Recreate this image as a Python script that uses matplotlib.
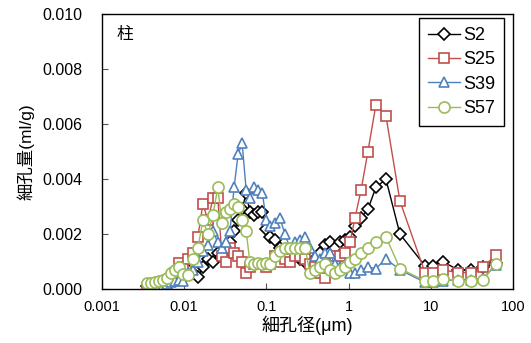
import matplotlib
matplotlib.use("Agg")
import matplotlib.pyplot as plt
from matplotlib.ticker import FixedLocator, FixedFormatter, FormatStrFormatter

plt.rcParams['font.family'] = ['Liberation Sans', 'Noto Sans CJK JP']

# pore diameter (um), shared by all samples
diam = [0.0035, 0.0039, 0.0044, 0.0049, 0.0055, 0.0062, 0.0069, 0.0077, 0.0086, 0.0097,
        0.011, 0.0128, 0.0147, 0.0169, 0.0195, 0.0224, 0.0257, 0.0288, 0.0323, 0.0361,
        0.0405, 0.0453, 0.0508, 0.0568, 0.063, 0.0712, 0.0797, 0.0893, 0.0999, 0.111,
        0.127, 0.146, 0.168, 0.194, 0.223, 0.256, 0.295, 0.339, 0.390, 0.449,
        0.516, 0.594, 0.684, 0.786, 0.904, 1.04, 1.20, 1.42, 1.72, 2.15,
        2.85, 4.22, 8.5, 10.6, 14.1, 21.4, 30.8, 43.2, 62.1]

s2 = [0.00012, 0.00012, 0.00015, 0.00018, 0.0002, 0.00025, 0.0003, 0.0004, 0.0005, 0.0006,
      0.0007, 0.0006, 0.00045, 0.0008, 0.0011, 0.0010, 0.0013, 0.0012, 0.0015, 0.0017,
      0.0021, 0.0025, 0.0029, 0.0035, 0.0028, 0.0027, 0.0028, 0.0028, 0.0022, 0.0019,
      0.0018, 0.0015, 0.0013, 0.0012, 0.0012, 0.0011, 0.0010, 0.0012, 0.0011, 0.0013,
      0.0016, 0.0017, 0.0015, 0.0017, 0.0018, 0.0019, 0.0023, 0.0026, 0.0029, 0.0037,
      0.0040, 0.0020, 0.00085, 0.00085, 0.0010, 0.0007, 0.0007, 0.0008, 0.00095]

s25 = [0.00005, 0.00008, 0.0001, 0.00012, 0.00015, 0.0002, 0.0003, 0.0006, 0.00095, 0.0008,
       0.0011, 0.0013, 0.0019, 0.0031, 0.0025, 0.0033, 0.0033, 0.0012, 0.0010, 0.0015,
       0.0013, 0.0012, 0.0010, 0.0006, 0.0008, 0.0009, 0.0009, 0.0009, 0.0008, 0.0009,
       0.0012, 0.0010, 0.0011, 0.0010, 0.0012, 0.0012, 0.0011, 0.0009, 0.0008, 0.0006,
       0.0004, 0.0009, 0.0012, 0.0012, 0.0013, 0.0017, 0.0026, 0.0036, 0.0050, 0.0067,
       0.0063, 0.0032, 0.0006, 0.0006, 0.0007, 0.0006, 0.0006, 0.0008, 0.00125]

s39 = [0.00003, 0.00005, 0.00008, 0.0001, 0.00012, 0.00018, 0.00025, 0.0003, 0.00035, 0.0003,
       0.0006, 0.0007, 0.0010, 0.0014, 0.0016, 0.0021, 0.0017, 0.0015, 0.0017, 0.0021,
       0.0037, 0.0049, 0.0053, 0.0036, 0.0033, 0.0037, 0.0036, 0.0035, 0.0025, 0.0023,
       0.0024, 0.0026, 0.0020, 0.0015, 0.0017, 0.0018, 0.0019, 0.0015, 0.0012, 0.0011,
       0.0013, 0.0013, 0.0009, 0.0008, 0.00087, 0.0006, 0.0006, 0.0007, 0.0008, 0.00075,
       0.0011, 0.0007, 0.00025, 0.00025, 0.0003, 0.00035, 0.00035, 0.0004, 0.00087]

s57 = [0.00022, 0.00022, 0.00025, 0.0003, 0.00035, 0.0004, 0.0006, 0.0007, 0.0008, 0.00055,
       0.0005, 0.0011, 0.0015, 0.0025, 0.0020, 0.0027, 0.0037, 0.0024, 0.0028, 0.0029,
       0.0031, 0.0030, 0.0025, 0.0021, 0.0010, 0.0009, 0.00095, 0.0009, 0.00095, 0.0009,
       0.0012, 0.0014, 0.0015, 0.0015, 0.0015, 0.0015, 0.0015, 0.0006, 0.0007, 0.0008,
       0.0009, 0.0007, 0.0006, 0.0007, 0.0008, 0.0010, 0.0011, 0.0013, 0.0015, 0.0017,
       0.0019, 0.00075, 0.0003, 0.0003, 0.00038, 0.0003, 0.0003, 0.00035, 0.0009]

names = ['S2', 'S25', 'S39', 'S57']
series = [s2, s25, s39, s57]
colors = ['black', '#C0504D', '#4F81BD', '#9BBB59']
markers = ['D', 's', '^', 'o']
msizes = [6, 7.5, 7.5, 8]

xticks = [0.001, 0.01, 0.1, 1, 10, 100]
xticklabels = ['0.001', '0.01', '0.1', '1', '10', '100']

fig = plt.figure(figsize=(5.31, 3.43), dpi=100)
ax = fig.add_axes([0.192, 0.157, 0.774, 0.802])

for name, ys, c, m, ms in zip(names, series, colors, markers, msizes):
    ax.plot(diam, ys, color=c, lw=1.0, marker=m, ms=ms, mfc='white',
            mec=c, mew=1.2, label=name)

ax.set_xscale('log')
ax.set_xlim(0.001, 100)
ax.set_ylim(0, 0.010)
ax.xaxis.set_major_locator(FixedLocator(xticks))
ax.xaxis.set_major_formatter(FixedFormatter(xticklabels))
ax.xaxis.set_minor_locator(FixedLocator([]))
ax.set_yticks([0, 0.002, 0.004, 0.006, 0.008, 0.010])
ax.yaxis.set_major_formatter(FormatStrFormatter('%.3f'))
ax.tick_params(direction='in', length=4, width=0.8, colors='#555555',
               labelcolor='black')
ax.tick_params(axis='x', pad=8, labelsize=10.5)
ax.tick_params(axis='y', pad=14, labelsize=11.5)

for s in ax.spines.values():
    s.set_linewidth(1.0)

ax.set_xlabel('細孔径(μm)', fontsize=13, labelpad=1)
ax.set_ylabel('細孔量(ml/g)', fontsize=12.5, labelpad=6)
ax.text(0.036, 0.924, '柱', transform=ax.transAxes, fontsize=12, ha='left', va='center')

leg = ax.legend(loc='upper right', bbox_to_anchor=(0.978, 0.985), fontsize=13,
                frameon=True, fancybox=False, edgecolor='black', framealpha=1,
                handlelength=1.8, handletextpad=0.15, labelspacing=0.4,
                borderpad=0.5, borderaxespad=0.0)
leg.get_frame().set_linewidth(1.0)

fig.savefig('out.png', dpi=100)
